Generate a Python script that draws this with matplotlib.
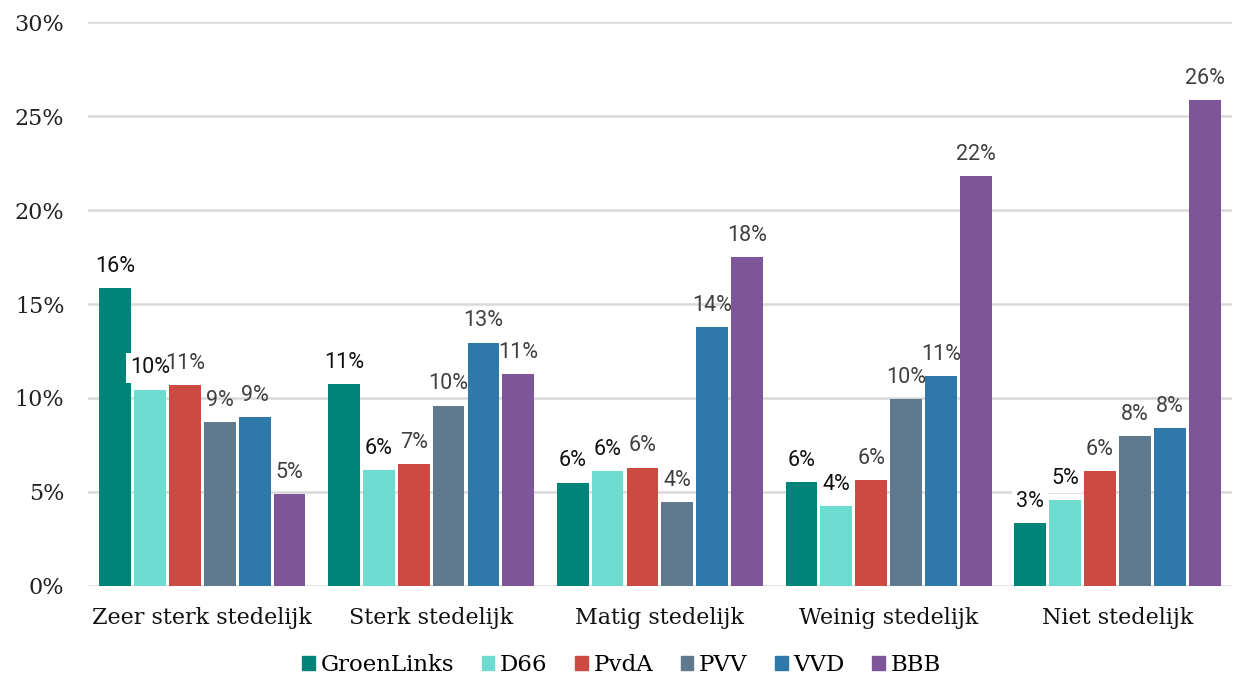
import numpy as np
import matplotlib
matplotlib.use('Agg')
import matplotlib.pyplot as plt
from matplotlib.patches import Patch

categories = ['Zeer sterk stedelijk', 'Sterk stedelijk', 'Matig stedelijk',
              'Weinig stedelijk', 'Niet stedelijk']
parties = ['GroenLinks', 'D66', 'PvdA', 'PVV', 'VVD', 'BBB']
colors = ['#00847A', '#6DDBD0', '#CB4B43', '#5F7A8E', '#2E78AA', '#7F559A']

# share of voters per party, per urbanisation level (%)
groenlinks = [15.85, 10.75, 5.50, 5.52, 3.37]
d66 = [10.45, 6.15, 6.10, 4.24, 4.56]
pvda = [10.70, 6.50, 6.30, 5.62, 6.13]
pvv = [8.70, 9.60, 4.45, 9.93, 7.98]
vvd = [9.00, 12.95, 13.75, 11.17, 8.38]
bbb = [4.90, 11.25, 17.50, 21.80, 25.86]
series = [groenlinks, d66, pvda, pvv, vvd, bbb]

yticks = [0, 5, 10, 15, 20, 25, 30]

fig = plt.figure(figsize=(12.43, 6.82), dpi=100)
ax = fig.add_axes([0.0708, 0.1408, 0.9202, 0.8269])

x = np.arange(len(categories))
slot = 0.1525
width = 0.139

for i, (name, vals) in enumerate(zip(parties, series)):
    pos = x + (i - 2.5) * slot
    ax.bar(pos, vals, width, color=colors[i], label=name, zorder=2)
    for px, v in zip(pos, vals):
        txt = f'{int(np.floor(v + 0.5))}%'
        if i < 2:
            ax.annotate(txt, (px, v), xytext=(0, 8), textcoords='offset points',
                        ha='center', va='bottom', fontsize=15.5, family='Roboto',
                        color='#111111', zorder=4,
                        bbox=dict(boxstyle='square,pad=0.2', fc='white', ec='none'))
        else:
            ax.annotate(txt, (px, v), xytext=(0, 8), textcoords='offset points',
                        ha='center', va='bottom', fontsize=15.5, family='Roboto',
                        color='#404040', zorder=4)

ax.set_xlim(-0.5, 4.5)
ax.set_ylim(0, 30)
ax.set_yticks(yticks)
ax.set_yticklabels([f'{t}%' for t in yticks], family='DejaVu Serif', fontsize=16,
                   color='#222222')
ax.set_xticks(x)
ax.set_xticklabels(categories, family='DejaVu Serif', fontsize=16, color='#111111')
ax.tick_params(axis='both', length=0)
ax.tick_params(axis='y', pad=17)
ax.tick_params(axis='x', pad=15)
ax.grid(axis='y', color='#d9d9d9', linewidth=1.8, zorder=0)
ax.set_axisbelow(True)
for s in ax.spines.values():
    s.set_visible(False)

handles = [Patch(color=c, label=p) for c, p in zip(colors, parties)]
fig.legend(handles=handles, loc='lower center', bbox_to_anchor=(0.5, -0.022), ncol=6,
           frameon=False, handlelength=0.55, handleheight=0.55, handletextpad=0.25,
           columnspacing=1.2, prop={'family': 'DejaVu Serif', 'size': 16.5})

fig.savefig('out.png', dpi=100)
